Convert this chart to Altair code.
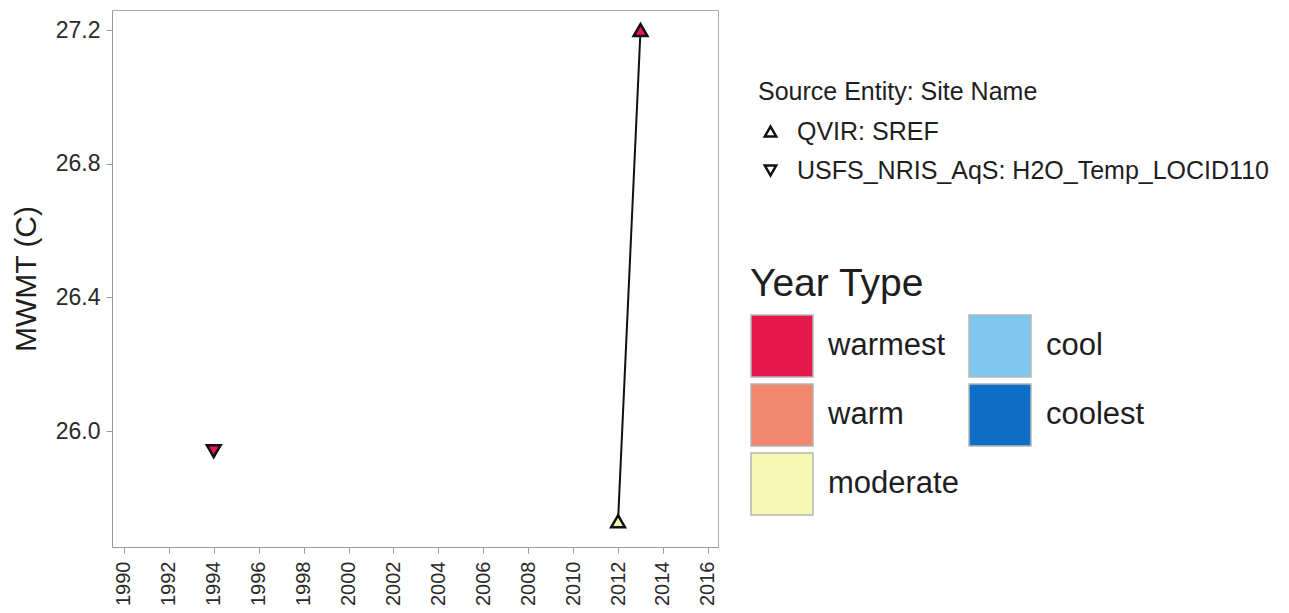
import altair as alt
import pandas as pd

years = [1994, 2012, 2013]
mwmt = [25.94, 25.73, 27.2]
sites = ["USFS_NRIS_AqS: H2O_Temp_LOCID110", "QVIR: SREF", "QVIR: SREF"]
year_types = ["warmest", "moderate", "warmest"]

site_domain = ["QVIR: SREF", "USFS_NRIS_AqS: H2O_Temp_LOCID110"]
site_shapes = ["triangle-up", "triangle-down"]
type_domain = ["warmest", "warm", "moderate", "cool", "coolest"]
type_colors = ["#E8174B", "#F0876E", "#F7F8B4", "#7FC6EE", "#0F6FC6"]
x_ticks = list(range(1990, 2017, 2))
y_ticks = [26.0, 26.4, 26.8, 27.2]

df = pd.DataFrame({"year": years, "mwmt": mwmt, "site": sites, "ytype": year_types})

FONT = "Liberation Sans"

x_enc = alt.X("year:Q", scale=alt.Scale(domain=[1989.47, 2016.45], nice=False, zero=False),
              axis=alt.Axis(values=x_ticks, format="d", labelAngle=-90, title=None,
                            grid=False, tickSize=6, labelPadding=8, labelFontSize=20))
y_enc = alt.Y("mwmt:Q", scale=alt.Scale(domain=[25.653, 27.26], nice=False, zero=False),
              axis=alt.Axis(values=y_ticks, format=".1f", title="MWMT (C)", grid=False,
                            tickSize=6, labelPadding=6, labelFontSize=23, titleFontSize=30,
                            titleFontWeight="normal", titlePadding=14))

line = alt.Chart(df).transform_filter(alt.datum.site == "QVIR: SREF").mark_line(
    color="#111", strokeWidth=2
).encode(x=x_enc, y=y_enc, detail="site:N")

points = alt.Chart(df).mark_point(filled=True, stroke="#111", strokeWidth=2.5, size=190, opacity=1).encode(
    x=x_enc,
    y=y_enc,
    shape=alt.Shape("site:N", scale=alt.Scale(domain=site_domain, range=site_shapes),
                    legend=alt.Legend(title="Source Entity: Site Name", orient="none",
                                      legendX=646, legendY=70, symbolFillColor="white",
                                      symbolStrokeColor="#111", symbolStrokeWidth=2.5,
                                      symbolSize=130, labelFontSize=25, titleFontSize=25,
                                      titleFontWeight="normal", labelOffset=14, rowPadding=13,
                                      titlePadding=14, titleLimit=800, labelLimit=800)),
    fill=alt.Fill("ytype:N", scale=alt.Scale(domain=type_domain, range=type_colors),
                  legend=alt.Legend(title="Year Type", orient="none", legendX=638, legendY=255,
                                    columns=2, symbolType="square", symbolSize=3844,
                                    symbolStrokeColor="#b5b5b5", symbolStrokeWidth=1.5,
                                    symbolOpacity=1, labelFontSize=31, titleFontSize=39,
                                    titleFontWeight="normal", labelOffset=14, rowPadding=1,
                                    columnPadding=7, titlePadding=10, titleLimit=800)),
)

chart = (line + points).properties(
    width=606, height=537,
    autosize=alt.AutoSizeParams(type="none"),
    padding={"left": 104, "top": 2, "right": 563, "bottom": 64},
).configure(font=FONT).configure_view(stroke="#aaaaaa", strokeWidth=1).configure_axis(
    labelColor="#2a2a2a", titleColor="#1e1e1e", tickColor="#999999", domainColor="#999999",
    labelFont=FONT, titleFont=FONT
).configure_legend(labelFont=FONT, titleFont=FONT, labelColor="#1e1e1e", titleColor="#1e1e1e")

chart.save("out.html", embed_options={"renderer": "svg", "actions": False})
